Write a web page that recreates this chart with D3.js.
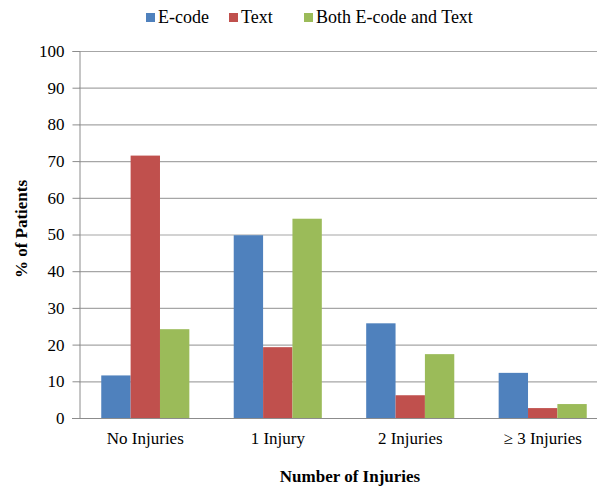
<!DOCTYPE html>
<html>
<head>
<meta charset="utf-8">
<script src="https://cdn.jsdelivr.net/npm/d3@7"></script>
<style>
html,body{margin:0;padding:0;background:#fff;}
svg{display:block;}
</style>
</head>
<body>
<svg id="chart" width="597" height="487" font-family="Liberation Serif"></svg>
<script>
const categories = ["No Injuries", "1 Injury", "2 Injuries", "\u2265 3 Injuries"];
const seriesNames = ["E-code", "Text", "Both E-code and Text"];
const ecode = [11.6, 49.8, 25.8, 12.3];
const text = [71.5, 19.3, 6.2, 2.7];
const both = [24.2, 54.3, 17.4, 3.8];
const yTicks = [0, 10, 20, 30, 40, 50, 60, 70, 80, 90, 100];
const colors = ["#4F81BD", "#C0504D", "#9BBB59"];

(function () {
const FONT = "'Liberation Serif', 'Times New Roman', serif";
const seriesValues = [ecode, text, both];
const svg = d3.select("#chart");
const pLeft = 79, pRight = 609, pTop = 51, pBottom = 418;

const x = d3.scaleBand().domain(categories).range([pLeft, pRight]).paddingInner(0.335).paddingOuter(0.168);
const x1 = d3.scaleBand().domain(seriesNames).range([0, x.bandwidth()]);
const y = d3.scaleLinear().domain([0, 100]).range([pBottom, pTop]);

// gridlines
svg.append("g").selectAll("line").data(yTicks.filter(d => d > 0)).join("line")
  .attr("x1", pLeft).attr("x2", 597)
  .attr("y1", d => y(d) + 0.5).attr("y2", d => y(d) + 0.5)
  .attr("stroke", "#A6A6A6").attr("stroke-width", 1.2);

// bars
const g = svg.append("g");
categories.forEach((c, i) => {
  seriesNames.forEach((s, j) => {
    g.append("rect")
      .attr("x", x(c) + x1(s))
      .attr("y", y(seriesValues[j][i]))
      .attr("width", x1.bandwidth())
      .attr("height", y(0) - y(seriesValues[j][i]))
      .attr("fill", colors[j]);
  });
});

// y axis
const yAxis = d3.axisLeft(y).tickValues(yTicks).tickSize(7).tickPadding(8);
const ya = svg.append("g").attr("transform", `translate(${pLeft + 0.5},0)`).call(yAxis);
ya.style("font-family", FONT);
ya.select(".domain").attr("stroke", "#8C8C8C");
ya.selectAll(".tick line").attr("stroke", "#8C8C8C");
ya.selectAll(".tick text").style("font-family", FONT).style("font-size", "17px").attr("fill", "#000");

// x axis
const xAxis = d3.axisBottom(x).tickSize(0).tickPadding(13);
const xa = svg.append("g").attr("transform", `translate(0,${pBottom + 0.5})`).call(xAxis);
xa.style("font-family", FONT);
xa.select(".domain").remove();
svg.append("line").attr("x1", 72).attr("x2", 597).attr("y1", pBottom + 0.5).attr("y2", pBottom + 0.5)
  .attr("stroke", "#8C8C8C").attr("stroke-width", 1.2);
xa.selectAll(".tick text").style("font-family", FONT).style("font-size", "17px").attr("fill", "#000");

// axis titles
svg.append("text").attr("x", 350).attr("y", 482).attr("text-anchor", "middle").style("font-family", FONT)
  .style("font-size", "17px").attr("font-weight", "bold").text("Number of Injuries");
svg.append("text").attr("transform", "translate(27,229) rotate(-90)").attr("text-anchor", "middle").style("font-family", FONT)
  .style("font-size", "17px").attr("font-weight", "bold").text("% of Patients");

// legend
const legendX = [146, 229, 304];
const lg = svg.append("g");
seriesNames.forEach((s, j) => {
  lg.append("rect").attr("x", legendX[j]).attr("y", 13).attr("width", 9).attr("height", 9).attr("fill", colors[j]);
  lg.append("text").attr("x", legendX[j] + 12).attr("y", 23).style("font-family", FONT).style("font-size", "18px").text(s);
});
})();
</script>
</body>
</html>
